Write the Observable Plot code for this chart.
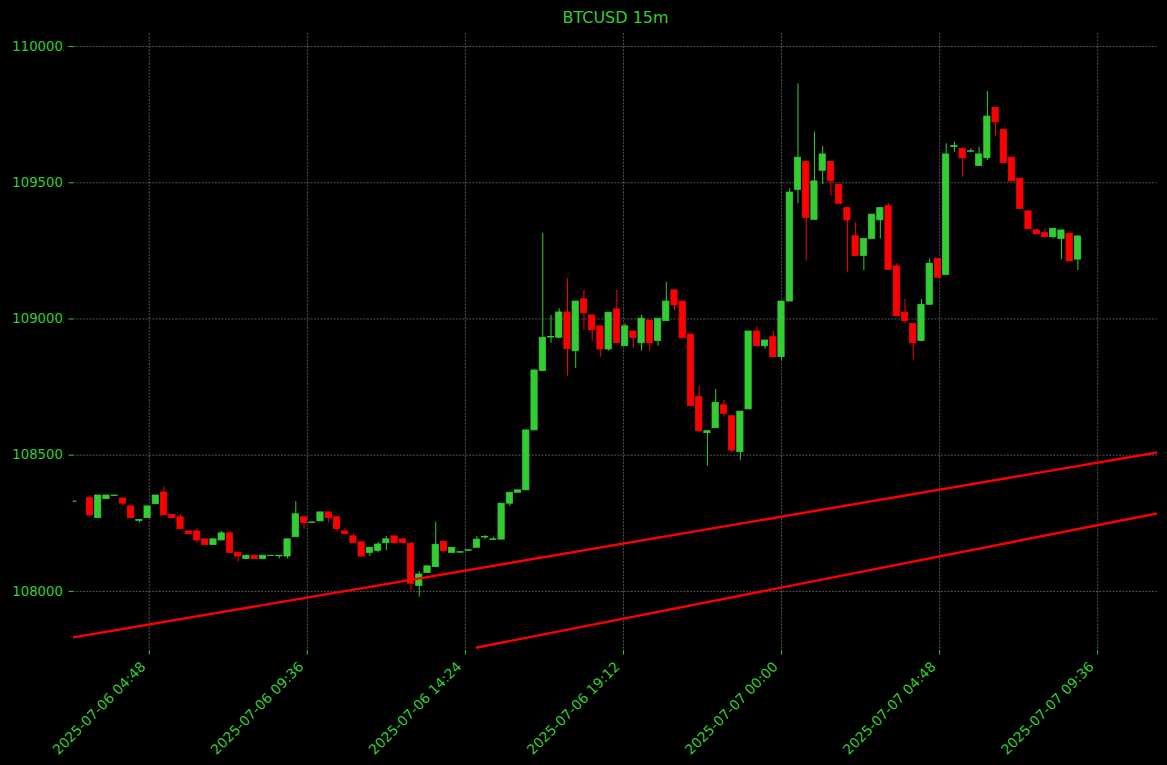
<!DOCTYPE html>
<html><head><meta charset="utf-8">
<script src="https://cdn.jsdelivr.net/npm/d3@7"></script>
<script src="https://cdn.jsdelivr.net/npm/@observablehq/plot@0.6"></script>
<style>html,body{margin:0;padding:0;background:#000;}</style>
</head><body><div id="chart"></div>
<script>
const title = "BTCUSD 15m";
const times6 = [
"02:30",
"03:00","03:15","03:30","03:45","04:00","04:15","04:30","04:45",
"05:00","05:15","05:30","05:45","06:00","06:15","06:30","06:45",
"07:00","07:15","07:30","07:45","08:00","08:15","08:30","08:45",
"09:00","09:15","09:30","09:45","10:00","10:15","10:30","10:45",
"11:00","11:15","11:30","11:45","12:00","12:15","12:30","12:45",
"13:00","13:15","13:30","13:45","14:00","14:15","14:30","14:45",
"15:00","15:15","15:30","15:45","16:00","16:15","16:30","16:45",
"17:00","17:15","17:30","17:45","18:00","18:15","18:30","18:45",
"19:00","19:15","19:30","19:45","20:00","20:15","20:30","20:45",
"21:00","21:15","21:30","21:45","22:00","22:15","22:30","22:45",
"23:00","23:15","23:30","23:45"];
const times7 = [
"00:00","00:15","00:30","00:45","01:00","01:15","01:30","01:45",
"02:00","02:15","02:30","02:45","03:00","03:15","03:30","03:45",
"04:00","04:15","04:30","04:45","05:00","05:15","05:30","05:45",
"06:00","06:15","06:30","06:45","07:00","07:15","07:30","07:45",
"08:00","08:15","08:30","08:45","09:00"];

const open = [
108329,
108342,108269,108339,108350,108341,108312,108259,108269,108320,
108363,108281,108272,108220,108220,108191,108170,108187,108213,108142,
108119,108131,108119,108130,108129,108128,108199,108272,108251,108257,
108290,108272,108220,108202,108180,108141,108149,108177,108202,108191,
108175,108020,108067,108089,108181,108141,108142,108149,108160,108198,
108189,108190,108322,108362,108371,108591,108809,108932,108931,109024,
108882,109072,109013,108973,108888,109035,108900,108954,108911,108994,
108919,108992,109105,109064,108943,108713,108581,108599,108683,108643,
108511,108668,108954,108900,108933,108860,109064,109474,109576,109364,
109544,109576,109493,109407,109304,109231,109294,109362,109414,109193,
109023,108982,108919,109052,109221,109162,109631,109625,109614,109562,
109590,109775,109694,109592,109515,109395,109325,109315,109300,109294,
109313,109218];
const high = [
108331,
108351,108352,108352,108353,108341,108312,108262,108312,108352,
108383,108281,108281,108220,108230,108191,108191,108220,108220,108142,
108131,108131,108131,108132,108131,108191,108330,108272,108254,108290,
108290,108272,108230,108211,108180,108160,108180,108202,108202,108191,
108181,108071,108092,108254,108181,108160,108145,108152,108202,108205,
108199,108322,108362,108371,108591,108811,109315,109013,109037,109148,
109064,109105,109013,108973,109023,109105,108982,108954,109013,108994,
109001,109135,109105,109064,108943,108752,108588,108741,108701,108643,
108660,108954,108973,108921,108954,109064,109478,109863,109576,109686,
109633,109576,109493,109407,109353,109294,109383,109407,109423,109203,
109071,108982,109071,109221,109221,109643,109649,109625,109625,109631,
109835,109775,109694,109592,109515,109395,109331,109331,109331,109325,
109313,109303];
const low = [
108327,
108279,108269,108339,108350,108312,108269,108251,108269,108320,
108279,108269,108228,108210,108177,108170,108170,108187,108141,108108,
108119,108119,108119,108129,108119,108119,108199,108228,108250,108257,
108252,108219,108210,108177,108128,108128,108141,108149,108177,108177,
108004,107979,108067,108089,108141,108141,108141,108148,108160,108190,
108188,108190,108312,108362,108371,108591,108809,108911,108931,108790,
108818,108960,108919,108860,108882,108911,108900,108891,108882,108882,
108900,108992,109031,108930,108680,108588,108460,108599,108640,108509,
108481,108668,108900,108889,108860,108848,109064,109423,109212,109364,
109493,109451,109423,109172,109231,109178,109294,109294,109180,109010,
108982,108848,108919,109052,109151,109162,109612,109520,109612,109562,
109582,109671,109573,109505,109404,109329,109311,109300,109294,109218,
109211,109178];
const close = [
108330,
108279,108352,108352,108352,108322,108269,108262,108312,108352,
108279,108269,108228,108210,108187,108170,108191,108213,108141,108128,
108131,108119,108131,108131,108131,108191,108283,108251,108253,108290,
108269,108228,108210,108177,108128,108160,108172,108191,108177,108177,
108028,108062,108092,108171,108148,108160,108144,108151,108190,108200,
108191,108322,108362,108371,108591,108811,108931,108934,109024,108889,
109064,109021,108959,108888,109023,108911,108973,108930,109001,108911,
109001,109064,109050,108930,108680,108588,108588,108692,108652,108517,
108660,108954,108900,108921,108860,109064,109464,109592,109371,109505,
109604,109505,109423,109362,109231,109294,109383,109407,109180,109010,
108992,108911,109052,109203,109151,109604,109635,109590,109616,109604,
109743,109722,109573,109505,109404,109329,109311,109300,109331,109325,
109211,109303];

// trend lines (time, price)
const line1Times = ["2025-07-06 02:30", "2025-07-07 11:25"];
const line1Values = [107831, 108510];
const line2Times = ["2025-07-06 14:45", "2025-07-07 11:25"];
const line2Values = [107794, 108286];

const xTickLabels = ["2025-07-06 04:48","2025-07-06 09:36","2025-07-06 14:24","2025-07-06 19:12","2025-07-07 00:00","2025-07-07 04:48","2025-07-07 09:36"];
const yTicks = [108000, 108500, 109000, 109500, 110000];
const xDomainLabels = ["2025-07-06 02:30", "2025-07-07 11:25"];
const yDomain = [107783, 110048];

const GREEN = "#32cd32", RED = "#ff0000", GRID = "#8c8c8c";
const FONT = "DejaVu Sans";
const parse = s => new Date(s.replace(" ", "T") + ":00Z");

const times = [...times6.map(t => "2025-07-06 " + t), ...times7.map(t => "2025-07-07 " + t)];
const candles = times.map((t, i) => ({t: parse(t), o: open[i], h: high[i], l: low[i], c: close[i]}));
const colorOf = d => d.c >= d.o ? GREEN : RED;
const half = 5.7 * 60 * 1000;
const line1 = line1Times.map((t, i) => ({t: parse(t), v: line1Values[i]}));
const line2 = line2Times.map((t, i) => ({t: parse(t), v: line2Values[i]}));
const xTickDates = xTickLabels.map(parse);

const plot = Plot.plot({
  width: 1167, height: 765,
  marginLeft: 73, marginRight: 10, marginTop: 33, marginBottom: 115,
  style: {background: "#000", fontFamily: FONT, fontSize: "13.3px", color: GREEN},
  x: {type: "utc", domain: xDomainLabels.map(parse)},
  y: {domain: yDomain},
  color: {type: "identity"},
  marks: [
    Plot.gridX(xTickDates, {stroke: GRID, strokeOpacity: 1, strokeWidth: 0.6, strokeDasharray: "2,1.3"}),
    Plot.gridY(yTicks, {stroke: GRID, strokeOpacity: 1, strokeWidth: 0.6, strokeDasharray: "2,1.3"}),
    Plot.axisY(yTicks, {tickSize: 4.5, tickPadding: 6, color: GREEN, label: null, tickFormat: d => String(d), fontSize: 13.3}),
    Plot.axisX(xTickDates, {tickSize: 4.5, color: GREEN, label: null, tickFormat: () => ""}),
    Plot.ruleX(candles, {x: "t", y1: "l", y2: "h", stroke: colorOf, strokeWidth: 1, clip: true}),
    Plot.rect(candles, {x1: d => new Date(+d.t - half), x2: d => new Date(+d.t + half), y1: "o", y2: "c",
      fill: colorOf, stroke: colorOf, strokeWidth: 0.8, clip: true}),
    Plot.line(line1, {x: "t", y: "v", stroke: RED, strokeWidth: 2.4, clip: true}),
    Plot.line(line2, {x: "t", y: "v", stroke: RED, strokeWidth: 2.4, clip: true}),
    Plot.text(xTickDates, {x: d => d, text: (d, i) => xTickLabels[i], frameAnchor: "bottom", rotate: -45,
      textAnchor: "end", lineAnchor: "middle", dy: 14, dx: -6, fill: GREEN, fontSize: 13.8, fontFamily: FONT}),
    Plot.text([title], {text: d => d, frameAnchor: "top", dy: -15.6, lineAnchor: "middle", fill: GREEN, fontSize: 16, fontFamily: FONT})
  ]
});
document.getElementById("chart").appendChild(plot);
</script>
</body></html>
